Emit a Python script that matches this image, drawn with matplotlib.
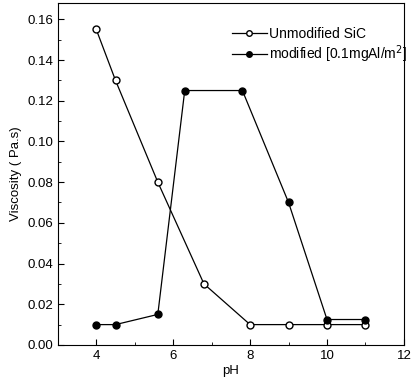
import matplotlib
matplotlib.use("Agg")
import matplotlib.pyplot as plt
from matplotlib.ticker import MultipleLocator

plt.rcParams["font.family"] = ["Liberation Sans", "DejaVu Sans"]

ph_unmod = [4, 4.5, 5.6, 6.8, 8, 9, 10, 11]
visc_unmod = [0.155, 0.13, 0.08, 0.03, 0.01, 0.01, 0.01, 0.01]

ph_mod = [4, 4.5, 5.6, 6.3, 7.8, 9, 10, 11]
visc_mod = [0.01, 0.01, 0.015, 0.125, 0.125, 0.07, 0.0125, 0.0125]

fig = plt.figure(figsize=(4.13, 3.77), dpi=100)
ax = fig.add_axes([0.140, 0.085, 0.838, 0.907])

ax.plot(ph_unmod, visc_unmod, "-o", color="black", mfc="white", mec="black",
        lw=0.9, ms=5, label="Unmodified SiC")
ax.plot(ph_mod, visc_mod, "-o", color="black", mfc="black",
        lw=0.9, ms=5, label="modified [0.1mgAl/m$^2$]")

ax.set_xlim(3, 12)
ax.set_ylim(0, 0.168)
ax.xaxis.set_major_locator(MultipleLocator(2))
ax.xaxis.set_minor_locator(MultipleLocator(1))
ax.yaxis.set_major_locator(MultipleLocator(0.02))
ax.yaxis.set_minor_locator(MultipleLocator(0.01))
ax.yaxis.set_major_formatter(plt.FormatStrFormatter("%.2f"))
ax.tick_params(which="both", direction="in", labelsize=9.5)
ax.tick_params(which="major", length=4)
ax.tick_params(which="minor", length=2)

ax.set_xlabel("pH", fontsize=9.5, labelpad=2)
ax.set_ylabel("Viscosity ( Pa.s)", fontsize=9.5)

ax.legend(loc="upper right", bbox_to_anchor=(1.01, 0.93), frameon=False,
          fontsize=10, handlelength=2.5, handletextpad=0.2, labelspacing=0.15,
          borderaxespad=0, borderpad=0, markerscale=0.8)

fig.savefig("out.png", dpi=100)
